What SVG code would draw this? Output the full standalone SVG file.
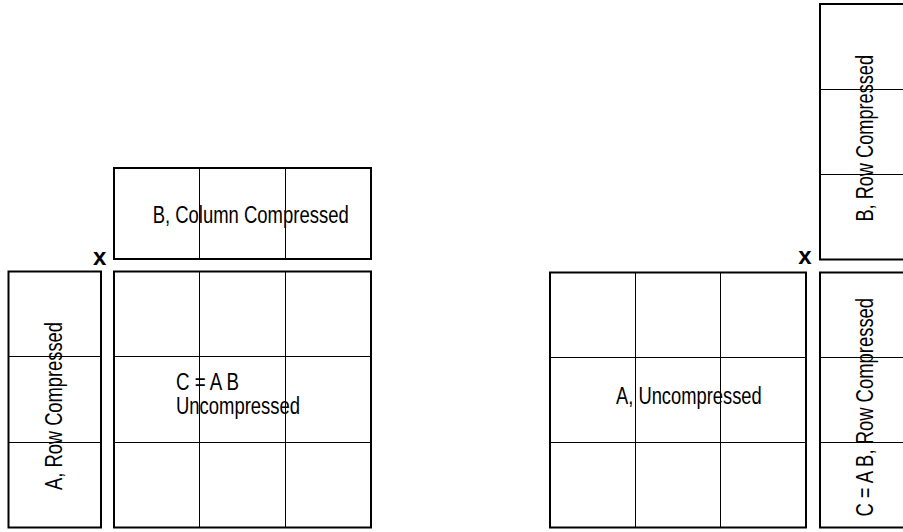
<svg xmlns="http://www.w3.org/2000/svg" width="903" height="532" viewBox="0 0 903 532">
<style>
.box{fill:none;stroke:#000;stroke-width:2}
.grid{stroke:#000;stroke-width:1;fill:none}
.lbl{font-family:"Liberation Sans",Arial,sans-serif;font-size:23px;fill:#000}
.x{font-family:"Liberation Sans",Arial,sans-serif;font-size:24px;font-weight:bold;fill:#000}
</style>
<rect width="903" height="532" fill="#fff"/>
<g id="left-B">
<rect class="box" x="114" y="168" width="257" height="91"/>
<path class="grid" d="M199.5 168V259M285.5 168V259"/>
<text class="lbl" x="152.7" y="223" textLength="196" lengthAdjust="spacingAndGlyphs">B, Column Compressed</text>
</g>
<text class="x" x="99.7" y="265" text-anchor="middle">x</text>
<g id="left-A">
<rect class="box" x="8.5" y="271.5" width="92.5" height="256"/>
<path class="grid" d="M8.5 356.5H101M8.5 442.5H101"/>
<text class="lbl" transform="translate(62 406) rotate(-90)" x="-84" y="0" textLength="168" lengthAdjust="spacingAndGlyphs">A, Row Compressed</text>
</g>
<g id="left-C">
<rect class="box" x="114" y="271.5" width="257" height="256"/>
<path class="grid" d="M199.5 271.5V527.5M285.5 271.5V527.5M114 356.5H371M114 442.5H371"/>
<text class="lbl" x="176" y="390" textLength="63" lengthAdjust="spacingAndGlyphs">C = A B</text>
<text class="lbl" x="176" y="414" textLength="124" lengthAdjust="spacingAndGlyphs">Uncompressed</text>
</g>
<g id="right-B">
<rect class="box" x="820" y="4" width="100" height="255.5"/>
<path class="grid" d="M820 89.5H910M820 174.5H910"/>
<text class="lbl" transform="translate(872.5 138.3) rotate(-90)" x="-83.3" y="0" textLength="166.7" lengthAdjust="spacingAndGlyphs">B, Row Compressed</text>
</g>
<text class="x" x="805" y="264" text-anchor="middle">x</text>
<g id="right-A">
<rect class="box" x="550" y="272.5" width="256" height="255"/>
<path class="grid" d="M635.5 272.5V527.5M720.5 272.5V527.5M550 357.5H806M550 442.5H806"/>
<text class="lbl" x="616" y="404" textLength="145.7" lengthAdjust="spacingAndGlyphs">A, Uncompressed</text>
</g>
<g id="right-C">
<rect class="box" x="820" y="272.5" width="100" height="255"/>
<path class="grid" d="M820 357.5H910M820 442.5H910"/>
<text class="lbl" transform="translate(872.5 407.3) rotate(-90)" x="-109.3" y="0" textLength="218.7" lengthAdjust="spacingAndGlyphs">C = A B, Row Compressed</text>
</g>
</svg>
